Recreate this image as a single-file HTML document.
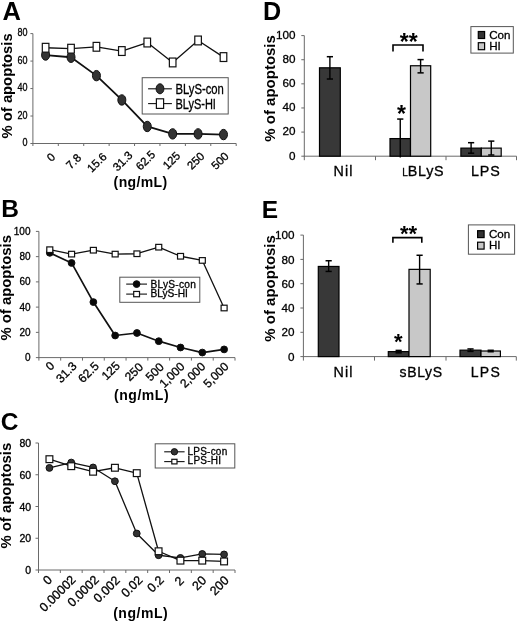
<!DOCTYPE html>
<html><head><meta charset="utf-8"><style>
html,body{margin:0;padding:0;background:#fff;width:520px;height:623px;overflow:hidden}
svg{display:block;will-change:transform}
text{font-family:"Liberation Sans", sans-serif}
</style></head><body>
<svg width="520" height="623" viewBox="0 0 520 623" font-family='"Liberation Sans", sans-serif'>
<rect width="520" height="623" fill="#fff"/>
<line x1="32.90" y1="33.60" x2="32.90" y2="144.00" stroke="#6a6a6a" stroke-width="1"/>
<line x1="32.40" y1="143.50" x2="236.20" y2="143.50" stroke="#6a6a6a" stroke-width="1"/>
<line x1="30.40" y1="143.50" x2="32.90" y2="143.50" stroke="#6a6a6a" stroke-width="1"/>
<text transform="translate(27.50,146.20) scale(0.820,1)" font-size="11" text-anchor="end" fill="#000" stroke="#000" stroke-width="0.3">0</text>
<line x1="30.40" y1="116.03" x2="32.90" y2="116.03" stroke="#6a6a6a" stroke-width="1"/>
<text transform="translate(27.50,118.73) scale(0.820,1)" font-size="11" text-anchor="end" fill="#000" stroke="#000" stroke-width="0.3">20</text>
<line x1="30.40" y1="88.55" x2="32.90" y2="88.55" stroke="#6a6a6a" stroke-width="1"/>
<text transform="translate(27.50,91.25) scale(0.820,1)" font-size="11" text-anchor="end" fill="#000" stroke="#000" stroke-width="0.3">40</text>
<line x1="30.40" y1="61.08" x2="32.90" y2="61.08" stroke="#6a6a6a" stroke-width="1"/>
<text transform="translate(27.50,63.78) scale(0.820,1)" font-size="11" text-anchor="end" fill="#000" stroke="#000" stroke-width="0.3">60</text>
<line x1="30.40" y1="33.60" x2="32.90" y2="33.60" stroke="#6a6a6a" stroke-width="1"/>
<text transform="translate(27.50,36.30) scale(0.820,1)" font-size="11" text-anchor="end" fill="#000" stroke="#000" stroke-width="0.3">80</text>
<line x1="32.90" y1="143.50" x2="32.90" y2="146.00" stroke="#6a6a6a" stroke-width="1"/>
<line x1="58.31" y1="143.50" x2="58.31" y2="146.00" stroke="#6a6a6a" stroke-width="1"/>
<line x1="83.72" y1="143.50" x2="83.72" y2="146.00" stroke="#6a6a6a" stroke-width="1"/>
<line x1="109.14" y1="143.50" x2="109.14" y2="146.00" stroke="#6a6a6a" stroke-width="1"/>
<line x1="134.55" y1="143.50" x2="134.55" y2="146.00" stroke="#6a6a6a" stroke-width="1"/>
<line x1="159.96" y1="143.50" x2="159.96" y2="146.00" stroke="#6a6a6a" stroke-width="1"/>
<line x1="185.38" y1="143.50" x2="185.38" y2="146.00" stroke="#6a6a6a" stroke-width="1"/>
<line x1="210.79" y1="143.50" x2="210.79" y2="146.00" stroke="#6a6a6a" stroke-width="1"/>
<line x1="236.20" y1="143.50" x2="236.20" y2="146.00" stroke="#6a6a6a" stroke-width="1"/>
<text transform="translate(56.00,157.80) rotate(-45)" font-size="11.4" text-anchor="end" fill="#000" stroke="#000" stroke-width="0.3">0</text>
<text transform="translate(81.90,158.50) rotate(-45)" font-size="11.4" text-anchor="end" fill="#000" stroke="#000" stroke-width="0.3">7.8</text>
<text transform="translate(107.50,157.40) rotate(-45)" font-size="11.4" text-anchor="end" fill="#000" stroke="#000" stroke-width="0.3">15.6</text>
<text transform="translate(133.20,156.00) rotate(-45)" font-size="11.4" text-anchor="end" fill="#000" stroke="#000" stroke-width="0.3">31.3</text>
<text transform="translate(156.10,155.20) rotate(-45)" font-size="11.4" text-anchor="end" fill="#000" stroke="#000" stroke-width="0.3">62.5</text>
<text transform="translate(180.90,156.50) rotate(-45)" font-size="11.4" text-anchor="end" fill="#000" stroke="#000" stroke-width="0.3">125</text>
<text transform="translate(205.20,156.90) rotate(-45)" font-size="11.4" text-anchor="end" fill="#000" stroke="#000" stroke-width="0.3">250</text>
<text transform="translate(229.40,156.90) rotate(-45)" font-size="11.4" text-anchor="end" fill="#000" stroke="#000" stroke-width="0.3">500</text>
<polyline points="45.61,55.03 71.02,57.23 96.43,75.64 121.84,99.95 147.26,126.47 172.67,133.88 198.08,133.88 223.49,134.57" fill="none" stroke="#111" stroke-width="1.8" stroke-linejoin="round"/>
<polyline points="45.61,47.75 71.02,48.71 96.43,46.79 121.84,51.05 147.26,42.53 172.67,62.45 198.08,40.47 223.49,57.09" fill="none" stroke="#111" stroke-width="1.3" stroke-linejoin="round"/>
<ellipse cx="45.61" cy="55.03" rx="4.0" ry="5.2" fill="#333" stroke="#111" stroke-width="1"/>
<ellipse cx="71.02" cy="57.23" rx="4.0" ry="5.2" fill="#333" stroke="#111" stroke-width="1"/>
<ellipse cx="96.43" cy="75.64" rx="4.0" ry="5.2" fill="#333" stroke="#111" stroke-width="1"/>
<ellipse cx="121.84" cy="99.95" rx="4.0" ry="5.2" fill="#333" stroke="#111" stroke-width="1"/>
<ellipse cx="147.26" cy="126.47" rx="4.0" ry="5.2" fill="#333" stroke="#111" stroke-width="1"/>
<ellipse cx="172.67" cy="133.88" rx="4.0" ry="5.2" fill="#333" stroke="#111" stroke-width="1"/>
<ellipse cx="198.08" cy="133.88" rx="4.0" ry="5.2" fill="#333" stroke="#111" stroke-width="1"/>
<ellipse cx="223.49" cy="134.57" rx="4.0" ry="5.2" fill="#333" stroke="#111" stroke-width="1"/>
<rect x="42.31" y="43.35" width="6.60" height="8.80" fill="#fff" stroke="#111" stroke-width="1.2"/>
<rect x="67.72" y="44.31" width="6.60" height="8.80" fill="#fff" stroke="#111" stroke-width="1.2"/>
<rect x="93.13" y="42.39" width="6.60" height="8.80" fill="#fff" stroke="#111" stroke-width="1.2"/>
<rect x="118.54" y="46.65" width="6.60" height="8.80" fill="#fff" stroke="#111" stroke-width="1.2"/>
<rect x="143.96" y="38.13" width="6.60" height="8.80" fill="#fff" stroke="#111" stroke-width="1.2"/>
<rect x="169.37" y="58.05" width="6.60" height="8.80" fill="#fff" stroke="#111" stroke-width="1.2"/>
<rect x="194.78" y="36.07" width="6.60" height="8.80" fill="#fff" stroke="#111" stroke-width="1.2"/>
<rect x="220.19" y="52.69" width="6.60" height="8.80" fill="#fff" stroke="#111" stroke-width="1.2"/>
<rect x="142.20" y="77.70" width="86.00" height="36.30" fill="#fff" stroke="#555" stroke-width="1"/>
<line x1="148.10" y1="88.80" x2="171.90" y2="88.80" stroke="#111" stroke-width="1.1"/>
<ellipse cx="160.00" cy="88.80" rx="3.9" ry="5.0" fill="#333" stroke="#111" stroke-width="1"/>
<line x1="148.10" y1="103.60" x2="171.90" y2="103.60" stroke="#111" stroke-width="1.1"/>
<rect x="156.40" y="98.80" width="7.20" height="9.60" fill="#fff" stroke="#111" stroke-width="1.2"/>
<text transform="translate(175.40,93.60)" font-size="14.5" text-anchor="start" textLength="48.5" lengthAdjust="spacingAndGlyphs" fill="#000" stroke="#000" stroke-width="0.3">BLyS-con</text>
<text transform="translate(175.40,108.90)" font-size="14.5" text-anchor="start" textLength="40.5" lengthAdjust="spacingAndGlyphs" fill="#000" stroke="#000" stroke-width="0.3">BLyS-HI</text>
<text transform="translate(11.80,85.90) rotate(-90)" font-size="14.7" text-anchor="middle" font-weight="bold" textLength="105" lengthAdjust="spacingAndGlyphs" fill="#000">% of apoptosis</text>
<text transform="translate(140.35,186.80)" font-size="14" text-anchor="middle" font-weight="bold" textLength="53.5" lengthAdjust="spacing" fill="#000">(ng/mL)</text>
<text transform="translate(2.60,20.40)" font-size="25.5" text-anchor="start" font-weight="bold" fill="#000">A</text>
<line x1="38.90" y1="231.40" x2="38.90" y2="358.10" stroke="#6a6a6a" stroke-width="1"/>
<line x1="38.40" y1="357.60" x2="235.00" y2="357.60" stroke="#6a6a6a" stroke-width="1"/>
<line x1="35.90" y1="357.60" x2="38.90" y2="357.60" stroke="#6a6a6a" stroke-width="1"/>
<text transform="translate(30.50,361.20)" font-size="10" text-anchor="end" fill="#000" stroke="#000" stroke-width="0.3">0</text>
<line x1="35.90" y1="332.36" x2="38.90" y2="332.36" stroke="#6a6a6a" stroke-width="1"/>
<text transform="translate(30.50,335.96)" font-size="10" text-anchor="end" fill="#000" stroke="#000" stroke-width="0.3">20</text>
<line x1="35.90" y1="307.12" x2="38.90" y2="307.12" stroke="#6a6a6a" stroke-width="1"/>
<text transform="translate(30.50,310.72)" font-size="10" text-anchor="end" fill="#000" stroke="#000" stroke-width="0.3">40</text>
<line x1="35.90" y1="281.88" x2="38.90" y2="281.88" stroke="#6a6a6a" stroke-width="1"/>
<text transform="translate(30.50,285.48)" font-size="10" text-anchor="end" fill="#000" stroke="#000" stroke-width="0.3">60</text>
<line x1="35.90" y1="256.64" x2="38.90" y2="256.64" stroke="#6a6a6a" stroke-width="1"/>
<text transform="translate(30.50,260.24)" font-size="10" text-anchor="end" fill="#000" stroke="#000" stroke-width="0.3">80</text>
<line x1="35.90" y1="231.40" x2="38.90" y2="231.40" stroke="#6a6a6a" stroke-width="1"/>
<text transform="translate(30.50,235.00)" font-size="10" text-anchor="end" fill="#000" stroke="#000" stroke-width="0.3">100</text>
<line x1="38.90" y1="357.60" x2="38.90" y2="360.60" stroke="#6a6a6a" stroke-width="1"/>
<line x1="60.69" y1="357.60" x2="60.69" y2="360.60" stroke="#6a6a6a" stroke-width="1"/>
<line x1="82.48" y1="357.60" x2="82.48" y2="360.60" stroke="#6a6a6a" stroke-width="1"/>
<line x1="104.27" y1="357.60" x2="104.27" y2="360.60" stroke="#6a6a6a" stroke-width="1"/>
<line x1="126.06" y1="357.60" x2="126.06" y2="360.60" stroke="#6a6a6a" stroke-width="1"/>
<line x1="147.84" y1="357.60" x2="147.84" y2="360.60" stroke="#6a6a6a" stroke-width="1"/>
<line x1="169.63" y1="357.60" x2="169.63" y2="360.60" stroke="#6a6a6a" stroke-width="1"/>
<line x1="191.42" y1="357.60" x2="191.42" y2="360.60" stroke="#6a6a6a" stroke-width="1"/>
<line x1="213.21" y1="357.60" x2="213.21" y2="360.60" stroke="#6a6a6a" stroke-width="1"/>
<line x1="235.00" y1="357.60" x2="235.00" y2="360.60" stroke="#6a6a6a" stroke-width="1"/>
<text transform="translate(55.30,366.50) rotate(-45)" font-size="12" text-anchor="end" fill="#000" stroke="#000" stroke-width="0.3">0</text>
<text transform="translate(77.40,366.90) rotate(-45)" font-size="12" text-anchor="end" fill="#000" stroke="#000" stroke-width="0.3">31.3</text>
<text transform="translate(99.60,366.90) rotate(-45)" font-size="12" text-anchor="end" fill="#000" stroke="#000" stroke-width="0.3">62.5</text>
<text transform="translate(120.70,366.50) rotate(-45)" font-size="12" text-anchor="end" fill="#000" stroke="#000" stroke-width="0.3">125</text>
<text transform="translate(144.00,367.70) rotate(-45)" font-size="12" text-anchor="end" fill="#000" stroke="#000" stroke-width="0.3">250</text>
<text transform="translate(164.70,367.70) rotate(-45)" font-size="12" text-anchor="end" fill="#000" stroke="#000" stroke-width="0.3">500</text>
<text transform="translate(185.50,367.20) rotate(-45)" font-size="12" text-anchor="end" fill="#000" stroke="#000" stroke-width="0.3">1,000</text>
<text transform="translate(206.30,367.20) rotate(-45)" font-size="12" text-anchor="end" fill="#000" stroke="#000" stroke-width="0.3">2,000</text>
<text transform="translate(229.40,367.20) rotate(-45)" font-size="12" text-anchor="end" fill="#000" stroke="#000" stroke-width="0.3">5,000</text>
<polyline points="49.79,252.85 71.58,262.95 93.37,302.07 115.16,335.52 136.95,332.99 158.74,341.19 180.53,347.50 202.32,352.55 224.11,349.40" fill="none" stroke="#111" stroke-width="1.7" stroke-linejoin="round"/>
<polyline points="49.79,249.70 71.58,254.12 93.37,250.20 115.16,254.12 136.95,253.74 158.74,247.18 180.53,256.26 202.32,260.43 224.11,308.00" fill="none" stroke="#111" stroke-width="1.3" stroke-linejoin="round"/>
<ellipse cx="49.79" cy="252.85" rx="3.4" ry="3.4" fill="#080808" stroke="#111" stroke-width="1"/>
<ellipse cx="71.58" cy="262.95" rx="3.4" ry="3.4" fill="#080808" stroke="#111" stroke-width="1"/>
<ellipse cx="93.37" cy="302.07" rx="3.4" ry="3.4" fill="#080808" stroke="#111" stroke-width="1"/>
<ellipse cx="115.16" cy="335.52" rx="3.4" ry="3.4" fill="#080808" stroke="#111" stroke-width="1"/>
<ellipse cx="136.95" cy="332.99" rx="3.4" ry="3.4" fill="#080808" stroke="#111" stroke-width="1"/>
<ellipse cx="158.74" cy="341.19" rx="3.4" ry="3.4" fill="#080808" stroke="#111" stroke-width="1"/>
<ellipse cx="180.53" cy="347.50" rx="3.4" ry="3.4" fill="#080808" stroke="#111" stroke-width="1"/>
<ellipse cx="202.32" cy="352.55" rx="3.4" ry="3.4" fill="#080808" stroke="#111" stroke-width="1"/>
<ellipse cx="224.11" cy="349.40" rx="3.4" ry="3.4" fill="#080808" stroke="#111" stroke-width="1"/>
<rect x="46.79" y="246.90" width="6.00" height="5.60" fill="#fff" stroke="#111" stroke-width="1.2"/>
<rect x="68.58" y="251.32" width="6.00" height="5.60" fill="#fff" stroke="#111" stroke-width="1.2"/>
<rect x="90.37" y="247.40" width="6.00" height="5.60" fill="#fff" stroke="#111" stroke-width="1.2"/>
<rect x="112.16" y="251.32" width="6.00" height="5.60" fill="#fff" stroke="#111" stroke-width="1.2"/>
<rect x="133.95" y="250.94" width="6.00" height="5.60" fill="#fff" stroke="#111" stroke-width="1.2"/>
<rect x="155.74" y="244.38" width="6.00" height="5.60" fill="#fff" stroke="#111" stroke-width="1.2"/>
<rect x="177.53" y="253.46" width="6.00" height="5.60" fill="#fff" stroke="#111" stroke-width="1.2"/>
<rect x="199.32" y="257.63" width="6.00" height="5.60" fill="#fff" stroke="#111" stroke-width="1.2"/>
<rect x="221.11" y="305.20" width="6.00" height="5.60" fill="#fff" stroke="#111" stroke-width="1.2"/>
<rect x="119.80" y="277.20" width="80.00" height="25.10" fill="#fff" stroke="#555" stroke-width="1"/>
<line x1="126.20" y1="284.10" x2="147.00" y2="284.10" stroke="#111" stroke-width="1.1"/>
<ellipse cx="136.60" cy="284.10" rx="3.4" ry="3.4" fill="#080808" stroke="#111" stroke-width="1"/>
<line x1="126.20" y1="294.10" x2="147.00" y2="294.10" stroke="#111" stroke-width="1.1"/>
<rect x="133.70" y="291.45" width="5.80" height="5.30" fill="#fff" stroke="#111" stroke-width="1.2"/>
<text transform="translate(150.40,287.60)" font-size="10.2" text-anchor="start" textLength="45.5" lengthAdjust="spacing" fill="#000" stroke="#000" stroke-width="0.3">BLyS-con</text>
<text transform="translate(150.40,297.00)" font-size="10.2" text-anchor="start" textLength="37.5" lengthAdjust="spacing" fill="#000" stroke="#000" stroke-width="0.3">BLyS-HI</text>
<text transform="translate(11.40,287.80) rotate(-90)" font-size="14.7" text-anchor="middle" font-weight="bold" textLength="105.5" lengthAdjust="spacingAndGlyphs" fill="#000">% of apoptosis</text>
<text transform="translate(141.30,400.30)" font-size="14" text-anchor="middle" font-weight="bold" textLength="54.5" lengthAdjust="spacing" fill="#000">(ng/mL)</text>
<text transform="translate(1.30,216.70)" font-size="24.5" text-anchor="start" font-weight="bold" fill="#000">B</text>
<line x1="38.50" y1="443.00" x2="38.50" y2="570.50" stroke="#6a6a6a" stroke-width="1"/>
<line x1="38.00" y1="570.00" x2="235.00" y2="570.00" stroke="#6a6a6a" stroke-width="1"/>
<line x1="35.50" y1="570.00" x2="38.50" y2="570.00" stroke="#6a6a6a" stroke-width="1"/>
<text transform="translate(31.10,574.00) scale(1.050,1)" font-size="10" text-anchor="end" fill="#000" stroke="#000" stroke-width="0.3">0</text>
<line x1="35.50" y1="538.25" x2="38.50" y2="538.25" stroke="#6a6a6a" stroke-width="1"/>
<text transform="translate(31.10,542.25) scale(1.050,1)" font-size="10" text-anchor="end" fill="#000" stroke="#000" stroke-width="0.3">20</text>
<line x1="35.50" y1="506.50" x2="38.50" y2="506.50" stroke="#6a6a6a" stroke-width="1"/>
<text transform="translate(31.10,510.50) scale(1.050,1)" font-size="10" text-anchor="end" fill="#000" stroke="#000" stroke-width="0.3">40</text>
<line x1="35.50" y1="474.75" x2="38.50" y2="474.75" stroke="#6a6a6a" stroke-width="1"/>
<text transform="translate(31.10,478.75) scale(1.050,1)" font-size="10" text-anchor="end" fill="#000" stroke="#000" stroke-width="0.3">60</text>
<line x1="35.50" y1="443.00" x2="38.50" y2="443.00" stroke="#6a6a6a" stroke-width="1"/>
<text transform="translate(31.10,447.00) scale(1.050,1)" font-size="10" text-anchor="end" fill="#000" stroke="#000" stroke-width="0.3">80</text>
<line x1="38.50" y1="570.00" x2="38.50" y2="573.00" stroke="#6a6a6a" stroke-width="1"/>
<line x1="60.33" y1="570.00" x2="60.33" y2="573.00" stroke="#6a6a6a" stroke-width="1"/>
<line x1="82.17" y1="570.00" x2="82.17" y2="573.00" stroke="#6a6a6a" stroke-width="1"/>
<line x1="104.00" y1="570.00" x2="104.00" y2="573.00" stroke="#6a6a6a" stroke-width="1"/>
<line x1="125.83" y1="570.00" x2="125.83" y2="573.00" stroke="#6a6a6a" stroke-width="1"/>
<line x1="147.67" y1="570.00" x2="147.67" y2="573.00" stroke="#6a6a6a" stroke-width="1"/>
<line x1="169.50" y1="570.00" x2="169.50" y2="573.00" stroke="#6a6a6a" stroke-width="1"/>
<line x1="191.33" y1="570.00" x2="191.33" y2="573.00" stroke="#6a6a6a" stroke-width="1"/>
<line x1="213.17" y1="570.00" x2="213.17" y2="573.00" stroke="#6a6a6a" stroke-width="1"/>
<line x1="235.00" y1="570.00" x2="235.00" y2="573.00" stroke="#6a6a6a" stroke-width="1"/>
<text transform="translate(52.80,580.50) rotate(-45)" font-size="12.5" text-anchor="end" fill="#000" stroke="#000" stroke-width="0.3">0</text>
<text transform="translate(76.50,580.50) rotate(-45)" font-size="12.5" text-anchor="end" fill="#000" stroke="#000" stroke-width="0.3">0.00002</text>
<text transform="translate(99.60,580.50) rotate(-45)" font-size="12.5" text-anchor="end" fill="#000" stroke="#000" stroke-width="0.3">0.0002</text>
<text transform="translate(120.70,581.20) rotate(-45)" font-size="12.5" text-anchor="end" fill="#000" stroke="#000" stroke-width="0.3">0.002</text>
<text transform="translate(143.40,580.70) rotate(-45)" font-size="12.5" text-anchor="end" fill="#000" stroke="#000" stroke-width="0.3">0.02</text>
<text transform="translate(164.65,580.70) rotate(-45)" font-size="12.5" text-anchor="end" fill="#000" stroke="#000" stroke-width="0.3">0.2</text>
<text transform="translate(184.65,581.70) rotate(-45)" font-size="12.5" text-anchor="end" fill="#000" stroke="#000" stroke-width="0.3">2</text>
<text transform="translate(207.15,581.20) rotate(-45)" font-size="12.5" text-anchor="end" fill="#000" stroke="#000" stroke-width="0.3">20</text>
<text transform="translate(229.65,581.20) rotate(-45)" font-size="12.5" text-anchor="end" fill="#000" stroke="#000" stroke-width="0.3">200</text>
<polyline points="49.42,467.92 71.25,462.53 93.08,467.45 114.92,481.26 136.75,533.49 158.58,555.24 180.42,557.93 202.25,553.97 224.08,554.44" fill="none" stroke="#111" stroke-width="1.3" stroke-linejoin="round"/>
<polyline points="49.42,459.19 71.25,466.18 93.08,471.73 114.92,467.76 136.75,473.16 158.58,551.27 180.42,560.63 202.25,560.63 224.08,561.43" fill="none" stroke="#111" stroke-width="1.3" stroke-linejoin="round"/>
<ellipse cx="49.42" cy="467.92" rx="3.4" ry="3.4" fill="#333" stroke="#111" stroke-width="1"/>
<ellipse cx="71.25" cy="462.53" rx="3.4" ry="3.4" fill="#333" stroke="#111" stroke-width="1"/>
<ellipse cx="93.08" cy="467.45" rx="3.4" ry="3.4" fill="#333" stroke="#111" stroke-width="1"/>
<ellipse cx="114.92" cy="481.26" rx="3.4" ry="3.4" fill="#333" stroke="#111" stroke-width="1"/>
<ellipse cx="136.75" cy="533.49" rx="3.4" ry="3.4" fill="#333" stroke="#111" stroke-width="1"/>
<ellipse cx="158.58" cy="555.24" rx="3.4" ry="3.4" fill="#333" stroke="#111" stroke-width="1"/>
<ellipse cx="180.42" cy="557.93" rx="3.4" ry="3.4" fill="#333" stroke="#111" stroke-width="1"/>
<ellipse cx="202.25" cy="553.97" rx="3.4" ry="3.4" fill="#333" stroke="#111" stroke-width="1"/>
<ellipse cx="224.08" cy="554.44" rx="3.4" ry="3.4" fill="#333" stroke="#111" stroke-width="1"/>
<rect x="46.02" y="455.79" width="6.80" height="6.80" fill="#fff" stroke="#111" stroke-width="1.2"/>
<rect x="67.85" y="462.78" width="6.80" height="6.80" fill="#fff" stroke="#111" stroke-width="1.2"/>
<rect x="89.68" y="468.33" width="6.80" height="6.80" fill="#fff" stroke="#111" stroke-width="1.2"/>
<rect x="111.52" y="464.37" width="6.80" height="6.80" fill="#fff" stroke="#111" stroke-width="1.2"/>
<rect x="133.35" y="469.76" width="6.80" height="6.80" fill="#fff" stroke="#111" stroke-width="1.2"/>
<rect x="155.18" y="547.87" width="6.80" height="6.80" fill="#fff" stroke="#111" stroke-width="1.2"/>
<rect x="177.02" y="557.23" width="6.80" height="6.80" fill="#fff" stroke="#111" stroke-width="1.2"/>
<rect x="198.85" y="557.23" width="6.80" height="6.80" fill="#fff" stroke="#111" stroke-width="1.2"/>
<rect x="220.68" y="558.03" width="6.80" height="6.80" fill="#fff" stroke="#111" stroke-width="1.2"/>
<rect x="155.20" y="443.80" width="79.60" height="24.20" fill="#fff" stroke="#555" stroke-width="1"/>
<line x1="164.20" y1="451.80" x2="184.60" y2="451.80" stroke="#111" stroke-width="1.1"/>
<ellipse cx="174.40" cy="451.80" rx="3.2" ry="3.2" fill="#333" stroke="#111" stroke-width="1"/>
<line x1="164.20" y1="461.60" x2="184.60" y2="461.60" stroke="#111" stroke-width="1.1"/>
<rect x="171.80" y="459.30" width="5.20" height="4.60" fill="#fff" stroke="#111" stroke-width="1.2"/>
<text transform="translate(187.60,454.60)" font-size="10.0" text-anchor="start" textLength="39.6" lengthAdjust="spacing" fill="#000" stroke="#000" stroke-width="0.3">LPS-con</text>
<text transform="translate(187.60,464.00)" font-size="10.0" text-anchor="start" textLength="33.5" lengthAdjust="spacing" fill="#000" stroke="#000" stroke-width="0.3">LPS-HI</text>
<text transform="translate(11.30,495.70) rotate(-90)" font-size="14.7" text-anchor="middle" font-weight="bold" textLength="105.8" lengthAdjust="spacingAndGlyphs" fill="#000">% of apoptosis</text>
<text transform="translate(140.40,618.00)" font-size="14" text-anchor="middle" font-weight="bold" textLength="54.5" lengthAdjust="spacing" fill="#000">(ng/mL)</text>
<text transform="translate(0.70,430.20)" font-size="24.5" text-anchor="start" font-weight="bold" fill="#000">C</text>
<line x1="304.30" y1="35.60" x2="304.30" y2="156.70" stroke="#6a6a6a" stroke-width="1"/>
<line x1="303.80" y1="156.20" x2="516.50" y2="156.20" stroke="#6a6a6a" stroke-width="1"/>
<line x1="301.30" y1="156.20" x2="304.30" y2="156.20" stroke="#6a6a6a" stroke-width="1"/>
<text transform="translate(295.40,159.60)" font-size="11.7" text-anchor="end" fill="#000" stroke="#000" stroke-width="0.3">0</text>
<line x1="301.30" y1="132.08" x2="304.30" y2="132.08" stroke="#6a6a6a" stroke-width="1"/>
<text transform="translate(295.40,135.48)" font-size="11.7" text-anchor="end" fill="#000" stroke="#000" stroke-width="0.3">20</text>
<line x1="301.30" y1="107.96" x2="304.30" y2="107.96" stroke="#6a6a6a" stroke-width="1"/>
<text transform="translate(295.40,111.36)" font-size="11.7" text-anchor="end" fill="#000" stroke="#000" stroke-width="0.3">40</text>
<line x1="301.30" y1="83.84" x2="304.30" y2="83.84" stroke="#6a6a6a" stroke-width="1"/>
<text transform="translate(295.40,87.24)" font-size="11.7" text-anchor="end" fill="#000" stroke="#000" stroke-width="0.3">60</text>
<line x1="301.30" y1="59.72" x2="304.30" y2="59.72" stroke="#6a6a6a" stroke-width="1"/>
<text transform="translate(295.40,63.12)" font-size="11.7" text-anchor="end" fill="#000" stroke="#000" stroke-width="0.3">80</text>
<line x1="301.30" y1="35.60" x2="304.30" y2="35.60" stroke="#6a6a6a" stroke-width="1"/>
<text transform="translate(295.40,39.00)" font-size="11.7" text-anchor="end" fill="#000" stroke="#000" stroke-width="0.3">100</text>
<line x1="304.30" y1="156.20" x2="304.30" y2="160.20" stroke="#6a6a6a" stroke-width="1"/>
<line x1="375.50" y1="156.20" x2="375.50" y2="160.20" stroke="#6a6a6a" stroke-width="1"/>
<line x1="446.00" y1="156.20" x2="446.00" y2="160.20" stroke="#6a6a6a" stroke-width="1"/>
<line x1="516.50" y1="156.20" x2="516.50" y2="160.20" stroke="#6a6a6a" stroke-width="1"/>
<rect x="319.50" y="67.80" width="20.80" height="88.40" fill="#383838" stroke="#000" stroke-width="1.2"/>
<rect x="390.00" y="138.59" width="20.50" height="17.61" fill="#383838" stroke="#000" stroke-width="1.2"/>
<rect x="410.50" y="65.75" width="20.20" height="90.45" fill="#c8c8c8" stroke="#000" stroke-width="1.2"/>
<rect x="460.90" y="148.12" width="20.40" height="8.08" fill="#383838" stroke="#000" stroke-width="1.2"/>
<rect x="481.30" y="148.12" width="19.90" height="8.08" fill="#c8c8c8" stroke="#000" stroke-width="1.2"/>
<line x1="329.90" y1="79.02" x2="329.90" y2="56.70" stroke="#000" stroke-width="1.4"/>
<line x1="326.80" y1="56.70" x2="333.00" y2="56.70" stroke="#000" stroke-width="1.5"/>
<line x1="326.80" y1="79.02" x2="333.00" y2="79.02" stroke="#000" stroke-width="1.5"/>
<line x1="400.25" y1="157.41" x2="400.25" y2="119.06" stroke="#000" stroke-width="1.4"/>
<line x1="397.15" y1="119.06" x2="403.35" y2="119.06" stroke="#000" stroke-width="1.5"/>
<line x1="420.60" y1="72.87" x2="420.60" y2="59.60" stroke="#000" stroke-width="1.4"/>
<line x1="417.50" y1="59.60" x2="423.70" y2="59.60" stroke="#000" stroke-width="1.5"/>
<line x1="417.50" y1="72.87" x2="423.70" y2="72.87" stroke="#000" stroke-width="1.5"/>
<line x1="471.10" y1="153.19" x2="471.10" y2="142.69" stroke="#000" stroke-width="1.4"/>
<line x1="468.00" y1="142.69" x2="474.20" y2="142.69" stroke="#000" stroke-width="1.5"/>
<line x1="468.00" y1="153.19" x2="474.20" y2="153.19" stroke="#000" stroke-width="1.5"/>
<line x1="491.25" y1="154.99" x2="491.25" y2="141.12" stroke="#000" stroke-width="1.4"/>
<line x1="488.15" y1="141.12" x2="494.35" y2="141.12" stroke="#000" stroke-width="1.5"/>
<line x1="488.15" y1="154.99" x2="494.35" y2="154.99" stroke="#000" stroke-width="1.5"/>
<text transform="translate(333.50,175.50)" font-size="14.3" text-anchor="start" textLength="18.9" lengthAdjust="spacing" fill="#000" stroke="#000" stroke-width="0.3">Nil</text>
<text transform="translate(402.30,175.50)" font-size="10" text-anchor="start" fill="#000" stroke="#000" stroke-width="0.3">L</text>
<text transform="translate(407.75,175.50)" font-size="14.3" text-anchor="start" textLength="35.8" lengthAdjust="spacing" fill="#000" stroke="#000" stroke-width="0.3">BLyS</text>
<text transform="translate(470.90,175.50)" font-size="14.3" text-anchor="start" textLength="29" lengthAdjust="spacing" fill="#000" stroke="#000" stroke-width="0.3">LPS</text>
<polyline points="393,51.5 393,45 423,45 423,51.5" fill="none" stroke="#000" stroke-width="1.6"/>
<text transform="translate(408.80,49.50)" font-size="23" text-anchor="middle" font-weight="bold" fill="#000">**</text>
<text transform="translate(401.50,121.90)" font-size="23" text-anchor="middle" font-weight="bold" fill="#000">*</text>
<rect x="470.90" y="26.60" width="42.40" height="26.50" fill="#fff" stroke="#555" stroke-width="1"/>
<rect x="478.30" y="31.50" width="6.30" height="7.00" fill="#333" stroke="#000" stroke-width="1.2"/>
<rect x="478.30" y="42.70" width="6.30" height="7.00" fill="#c8c8c8" stroke="#000" stroke-width="1.2"/>
<text transform="translate(489.20,38.50)" font-size="11.6" text-anchor="start" fill="#000" stroke="#000" stroke-width="0.3">Con</text>
<text transform="translate(489.20,49.80)" font-size="11.6" text-anchor="start" fill="#000" stroke="#000" stroke-width="0.3">HI</text>
<text transform="translate(274.90,88.40) rotate(-90)" font-size="14.7" text-anchor="middle" font-weight="bold" textLength="106.5" lengthAdjust="spacingAndGlyphs" fill="#000">% of apoptosis</text>
<text transform="translate(263.00,20.00)" font-size="25.2" text-anchor="start" font-weight="bold" fill="#000">D</text>
<line x1="303.40" y1="235.10" x2="303.40" y2="357.10" stroke="#6a6a6a" stroke-width="1"/>
<line x1="302.90" y1="356.60" x2="516.30" y2="356.60" stroke="#6a6a6a" stroke-width="1"/>
<line x1="300.40" y1="356.60" x2="303.40" y2="356.60" stroke="#6a6a6a" stroke-width="1"/>
<text transform="translate(294.40,360.70)" font-size="11.7" text-anchor="end" fill="#000" stroke="#000" stroke-width="0.3">0</text>
<line x1="300.40" y1="332.30" x2="303.40" y2="332.30" stroke="#6a6a6a" stroke-width="1"/>
<text transform="translate(294.40,336.40)" font-size="11.7" text-anchor="end" fill="#000" stroke="#000" stroke-width="0.3">20</text>
<line x1="300.40" y1="308.00" x2="303.40" y2="308.00" stroke="#6a6a6a" stroke-width="1"/>
<text transform="translate(294.40,312.10)" font-size="11.7" text-anchor="end" fill="#000" stroke="#000" stroke-width="0.3">40</text>
<line x1="300.40" y1="283.70" x2="303.40" y2="283.70" stroke="#6a6a6a" stroke-width="1"/>
<text transform="translate(294.40,287.80)" font-size="11.7" text-anchor="end" fill="#000" stroke="#000" stroke-width="0.3">60</text>
<line x1="300.40" y1="259.40" x2="303.40" y2="259.40" stroke="#6a6a6a" stroke-width="1"/>
<text transform="translate(294.40,263.50)" font-size="11.7" text-anchor="end" fill="#000" stroke="#000" stroke-width="0.3">80</text>
<line x1="300.40" y1="235.10" x2="303.40" y2="235.10" stroke="#6a6a6a" stroke-width="1"/>
<text transform="translate(294.40,239.20)" font-size="11.7" text-anchor="end" fill="#000" stroke="#000" stroke-width="0.3">100</text>
<line x1="303.40" y1="356.60" x2="303.40" y2="360.60" stroke="#6a6a6a" stroke-width="1"/>
<line x1="374.50" y1="356.60" x2="374.50" y2="360.60" stroke="#6a6a6a" stroke-width="1"/>
<line x1="446.00" y1="356.60" x2="446.00" y2="360.60" stroke="#6a6a6a" stroke-width="1"/>
<line x1="516.30" y1="356.60" x2="516.30" y2="360.60" stroke="#6a6a6a" stroke-width="1"/>
<rect x="318.30" y="266.45" width="20.70" height="90.15" fill="#383838" stroke="#000" stroke-width="1.2"/>
<rect x="388.30" y="351.62" width="20.70" height="4.98" fill="#383838" stroke="#000" stroke-width="1.2"/>
<rect x="409.00" y="269.36" width="21.20" height="87.24" fill="#c8c8c8" stroke="#000" stroke-width="1.2"/>
<rect x="460.00" y="350.16" width="21.00" height="6.44" fill="#383838" stroke="#000" stroke-width="1.2"/>
<rect x="481.00" y="351.01" width="19.40" height="5.59" fill="#c8c8c8" stroke="#000" stroke-width="1.2"/>
<line x1="328.65" y1="271.43" x2="328.65" y2="260.74" stroke="#000" stroke-width="1.4"/>
<line x1="325.55" y1="260.74" x2="331.75" y2="260.74" stroke="#000" stroke-width="1.5"/>
<line x1="325.55" y1="271.43" x2="331.75" y2="271.43" stroke="#000" stroke-width="1.5"/>
<line x1="398.65" y1="352.83" x2="398.65" y2="350.40" stroke="#000" stroke-width="1.4"/>
<line x1="395.55" y1="350.40" x2="401.75" y2="350.40" stroke="#000" stroke-width="1.5"/>
<line x1="395.55" y1="352.83" x2="401.75" y2="352.83" stroke="#000" stroke-width="1.5"/>
<line x1="419.60" y1="283.94" x2="419.60" y2="255.27" stroke="#000" stroke-width="1.4"/>
<line x1="416.50" y1="255.27" x2="422.70" y2="255.27" stroke="#000" stroke-width="1.5"/>
<line x1="416.50" y1="283.94" x2="422.70" y2="283.94" stroke="#000" stroke-width="1.5"/>
<line x1="470.50" y1="351.38" x2="470.50" y2="348.95" stroke="#000" stroke-width="1.4"/>
<line x1="467.40" y1="348.95" x2="473.60" y2="348.95" stroke="#000" stroke-width="1.5"/>
<line x1="467.40" y1="351.38" x2="473.60" y2="351.38" stroke="#000" stroke-width="1.5"/>
<line x1="490.70" y1="351.74" x2="490.70" y2="350.28" stroke="#000" stroke-width="1.4"/>
<line x1="487.60" y1="350.28" x2="493.80" y2="350.28" stroke="#000" stroke-width="1.5"/>
<line x1="487.60" y1="351.74" x2="493.80" y2="351.74" stroke="#000" stroke-width="1.5"/>
<text transform="translate(333.50,376.80)" font-size="14.3" text-anchor="start" textLength="18.9" lengthAdjust="spacing" fill="#000" stroke="#000" stroke-width="0.3">Nil</text>
<text transform="translate(399.60,377.30)" font-size="14" text-anchor="start" textLength="42.5" lengthAdjust="spacing" fill="#000" stroke="#000" stroke-width="0.3">sBLyS</text>
<text transform="translate(470.80,376.60)" font-size="14" text-anchor="start" textLength="29" lengthAdjust="spacing" fill="#000" stroke="#000" stroke-width="0.3">LPS</text>
<polyline points="392.9,242.7 392.9,237.6 421.8,237.6 421.8,242.7" fill="none" stroke="#000" stroke-width="1.6"/>
<text transform="translate(408.50,240.80)" font-size="22" text-anchor="middle" font-weight="bold" fill="#000">**</text>
<text transform="translate(398.40,349.20)" font-size="22" text-anchor="middle" font-weight="bold" fill="#000">*</text>
<rect x="468.40" y="224.90" width="46.20" height="29.30" fill="#fff" stroke="#555" stroke-width="1"/>
<rect x="477.60" y="230.70" width="6.50" height="6.90" fill="#333" stroke="#000" stroke-width="1.2"/>
<rect x="477.60" y="242.20" width="6.50" height="6.90" fill="#c8c8c8" stroke="#000" stroke-width="1.2"/>
<text transform="translate(488.90,237.60)" font-size="11.6" text-anchor="start" fill="#000" stroke="#000" stroke-width="0.3">Con</text>
<text transform="translate(488.90,249.10)" font-size="11.6" text-anchor="start" fill="#000" stroke="#000" stroke-width="0.3">HI</text>
<text transform="translate(274.90,288.40) rotate(-90)" font-size="14.7" text-anchor="middle" font-weight="bold" textLength="106.5" lengthAdjust="spacingAndGlyphs" fill="#000">% of apoptosis</text>
<text transform="translate(261.80,217.80)" font-size="24.5" text-anchor="start" font-weight="bold" fill="#000">E</text>
</svg>
</body></html>
